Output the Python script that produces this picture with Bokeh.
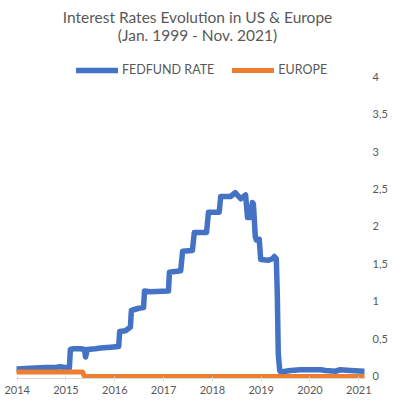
from bokeh.plotting import figure
from bokeh.models import Range1d, LinearAxis, FixedTicker, Legend, LegendItem, Label
from bokeh.embed import file_html
from bokeh.resources import INLINE

# ---- data (decimal years, percent) ----
fed_years = [2014.00, 2014.27, 2014.58, 2014.78, 2014.89, 2014.97, 2015.07, 2015.09, 2015.15, 2015.30,
             2015.38, 2015.40, 2015.44, 2015.60, 2015.71, 2015.91, 2016.08, 2016.10, 2016.22, 2016.32,
             2016.34, 2016.49, 2016.59, 2016.61, 2016.73, 2017.10, 2017.12, 2017.35, 2017.39, 2017.59,
             2017.63, 2017.88, 2017.92, 2018.14, 2018.17, 2018.37, 2018.47, 2018.58, 2018.68, 2018.72,
             2018.78, 2018.82, 2018.84, 2018.88, 2018.90, 2018.96, 2018.99, 2019.15, 2019.23, 2019.27,
             2019.31, 2019.33, 2019.35, 2019.38, 2019.40, 2019.50, 2019.60, 2019.81, 2020.22, 2020.32,
             2020.52, 2020.62, 2020.83, 2021.10]
fed_rate = [0.10, 0.11, 0.12, 0.12, 0.13, 0.12, 0.12, 0.36, 0.37, 0.37,
            0.36, 0.26, 0.36, 0.37, 0.38, 0.39, 0.40, 0.60, 0.61, 0.66,
            0.88, 0.91, 0.92, 1.14, 1.13, 1.14, 1.39, 1.41, 1.67, 1.68,
            1.92, 1.92, 2.19, 2.19, 2.40, 2.40, 2.45, 2.37, 2.42, 2.12,
            2.12, 2.32, 2.30, 1.86, 1.82, 1.83, 1.56, 1.55, 1.57, 1.60,
            1.57, 1.10, 0.30, 0.08, 0.06, 0.07, 0.08, 0.09, 0.09, 0.08,
            0.07, 0.09, 0.08, 0.07]
eu_years = [2014.00, 2015.34, 2015.38, 2021.10]
eu_rate = [0.06, 0.06, 0.0, 0.0]

x_ticks = [2014, 2015, 2016, 2017, 2018, 2019, 2020, 2021]
x_tick_labels = ["2014", "2015", "2016", "2017", "2018", "2019", "2020", "2021"]
y_ticks = [0, 0.5, 1, 1.5, 2, 2.5, 3, 3.5, 4]
y_tick_labels = ["0", "0,5", "1", "1,5", "2", "2,5", "3", "3,5", "4"]

title_lines = ["Interest Rates Evolution in US & Europe", "(Jan. 1999 - Nov. 2021)"]
series_names = ["FEDFUND RATE", "EUROPE"]
colors = ["#4472C4", "#ED7D31"]

FONT = "Lato"
GREY = "#595959"

FW, FH = 348, 370   # frame size in px
p = figure(frame_width=FW, frame_height=FH, output_backend="svg", toolbar_location=None,
           x_range=Range1d(2013.986, 2021.117), y_range=Range1d(-0.0267, 4.9067),
           x_axis_location=None, y_axis_location=None,
           min_border_left=16, min_border_right=23, min_border_top=8, min_border_bottom=28)
p.outline_line_color = None
p.xgrid.visible = False
p.ygrid.visible = False
p.background_fill_color = "white"
p.border_fill_color = "white"

# x axis
xa = LinearAxis(ticker=FixedTicker(ticks=x_ticks),
                major_label_overrides={t: l for t, l in zip(x_ticks, x_tick_labels)})
xa.axis_line_color = "#D9D9D9"
xa.major_tick_line_color = "#D9D9D9"
xa.major_tick_in = 2
xa.major_tick_out = 2
xa.minor_tick_line_color = None
xa.minor_tick_in = 0
xa.minor_tick_out = 0
xa.major_label_text_font = FONT
xa.major_label_text_font_size = "11px"
xa.major_label_text_color = GREY
xa.major_label_standoff = 5
p.add_layout(xa, "below")

# y axis right
ya = LinearAxis(ticker=FixedTicker(ticks=y_ticks),
                major_label_overrides={t: l for t, l in zip(y_ticks, y_tick_labels)})
ya.axis_line_color = None
ya.major_tick_line_color = None
ya.major_tick_in = 0
ya.major_tick_out = 0
ya.minor_tick_line_color = None
ya.minor_tick_in = 0
ya.minor_tick_out = 0
ya.major_label_text_font = FONT
ya.major_label_text_font_size = "11px"
ya.major_label_text_color = GREY
ya.major_label_standoff = 8
ya.major_label_text_align = "left"
p.add_layout(ya, "right")

r_fed = p.line(fed_years, fed_rate, line_color=colors[0], line_width=5.5, line_join="round", line_cap="round")
r_eu = p.line(eu_years, eu_rate, line_color=colors[1], line_width=5, line_join="round", line_cap="round")

# legend: location = bottom-left corner, measured from frame bottom-left (screen px)
legend = Legend(items=[LegendItem(label=series_names[0], renderers=[r_fed]),
                       LegendItem(label=series_names[1], renderers=[r_eu])],
                orientation="horizontal", location=(60, FH - 69),
                glyph_width=42, glyph_height=14, label_height=14, label_standoff=4, spacing=18,
                padding=0, margin=0, border_line_color=None, background_fill_alpha=0,
                label_text_font=FONT, label_text_font_size="12.5px", label_text_color=GREY)
p.add_layout(legend, "center")

for txt, yy in zip(title_lines, [FH - 8, FH - 26]):
    p.add_layout(Label(x=181, y=yy, x_units="screen", y_units="screen", text=txt,
                       text_align="center", text_baseline="middle",
                       text_font=FONT, text_font_size="15.5px", text_color=GREY))

open("out.html", "w").write(file_html(p, INLINE))
